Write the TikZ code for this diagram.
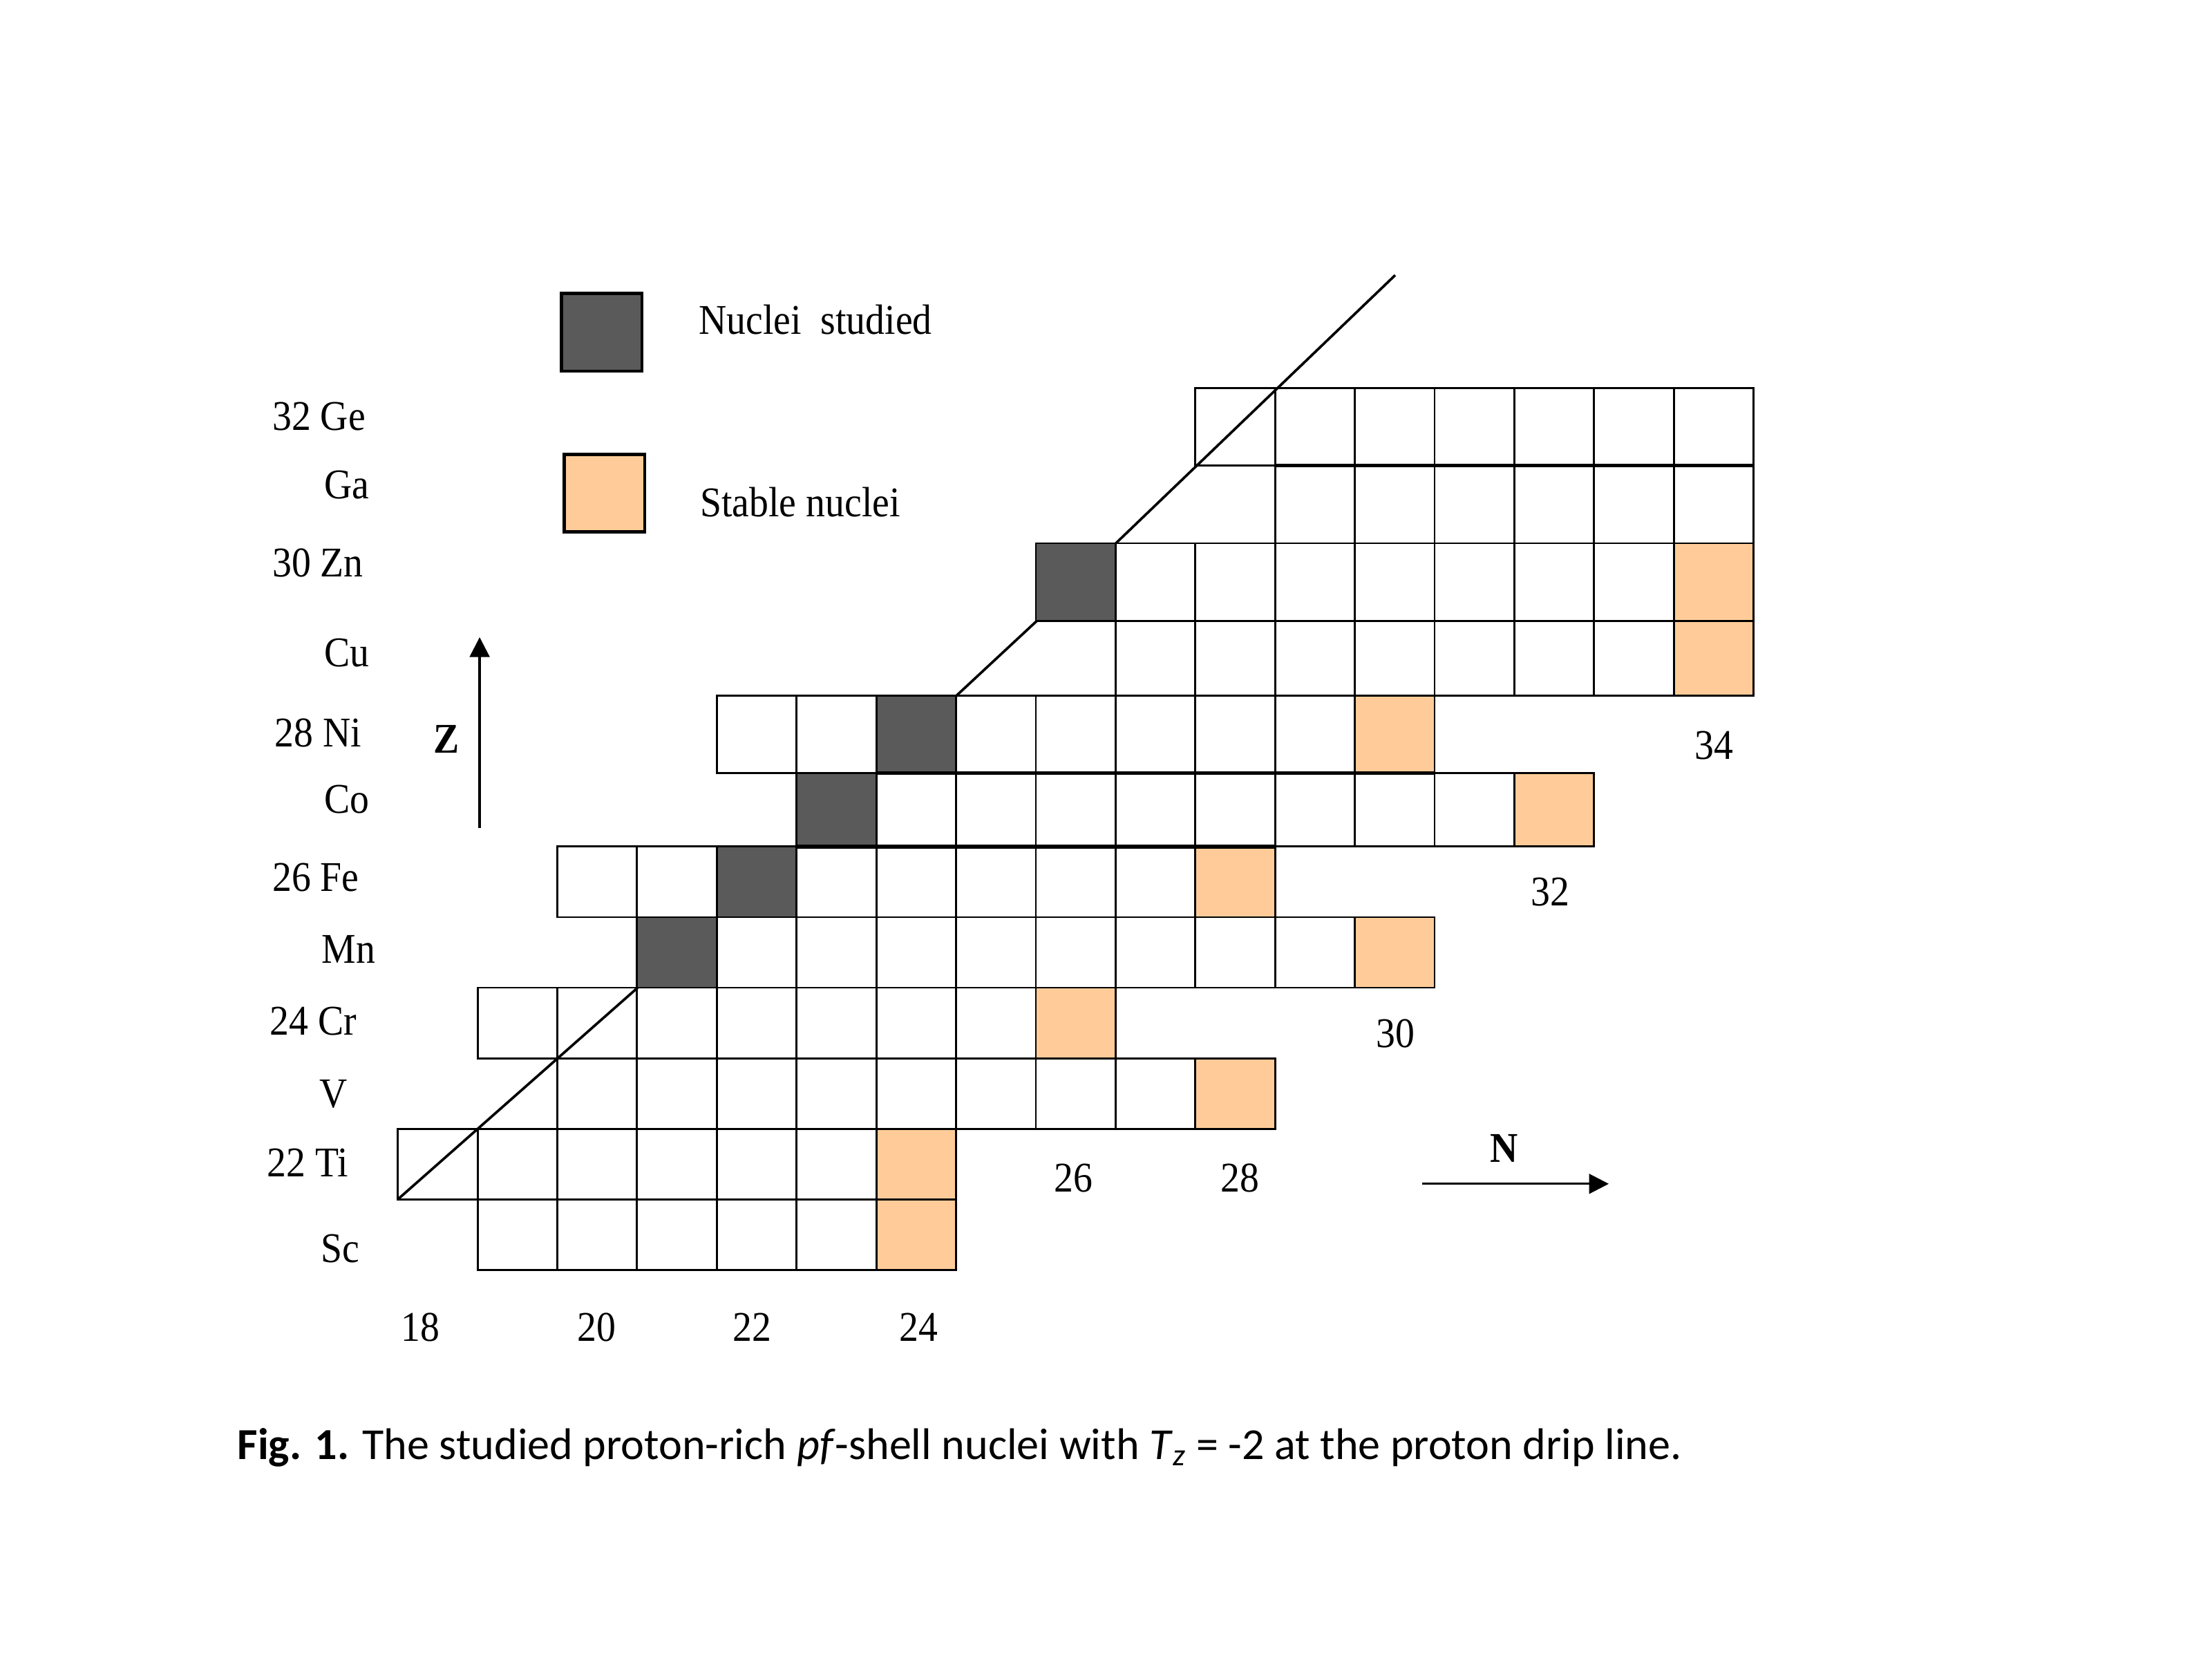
\documentclass[tikz,border=0pt]{standalone}
\usepackage{fontspec}
\setmainfont{Liberation Serif}[FakeStretch=0.91]
\newfontfamily\capfont{Carlito}
\usetikzlibrary{arrows.meta}
\definecolor{stabcol}{HTML}{FFCC99}
\definecolor{studcol}{HTML}{5A5A5A}
\tikzset{
  cell/.style={draw=black, line width=0.7pt},
  thickseg/.style={draw=black, line width=1.3pt},
  stud/.style={fill=studcol},
  stab/.style={fill=stabcol},
  legbox/.style={draw=black, line width=1.1pt},
  lab/.style={font=\fontsize{15}{18}\selectfont, inner sep=0pt},
  axlab/.style={font=\fontsize{15}{18}\selectfont\bfseries, inner sep=0pt},
  diag/.style={line width=0.9pt},
  axis/.style={line width=0.8pt, -{Triangle[length=7pt,width=7pt]}},
}
\begin{document}
\begin{tikzpicture}[x=0.5pt,y=-0.5pt]
\path[use as bounding box, fill=white] (0,0) rectangle (1568,1180);

% studied nuclei (Tz = -2)
\foreach \yt/\yb/\n in {385/440/26, 493/548/24, 548/600/23, 600/650/22, 650/700/21}
  \fill[stud] ({282+(\n-18)*56.53},\yt) rectangle ({282+(\n-17)*56.53},\yb);
% stable nuclei
\foreach \yt/\yb/\n in {385/440/34, 440/493/34, 493/548/30, 548/600/32, 600/650/28,
                         650/700/30, 700/750/26, 750/800/28, 800/850/24, 850/900/24}
  \fill[stab] ({282+(\n-18)*56.53},\yt) rectangle ({282+(\n-17)*56.53},\yb);
% cell borders, row by row (Ge ... Sc)
\foreach \yt/\yb/\na/\nb in {275/330/28/34, 330/385/29/34, 385/440/26/34, 440/493/27/34,
                             493/548/22/30, 548/600/23/32, 600/650/20/28, 650/700/21/30,
                             700/750/19/26, 750/800/20/28, 800/850/18/24, 850/900/19/24}
  \foreach \n in {\na,...,\nb}
    \draw[cell] ({282+(\n-18)*56.53},\yt) rectangle ({282+(\n-17)*56.53},\yb);
% heavier boundary lines
\draw[thickseg] ({282+(29-18)*56.53},330) -- ({282+(35-18)*56.53},330);
\draw[thickseg] ({282+(24-18)*56.53},548) -- ({282+(31-18)*56.53},548);
\draw[thickseg] ({282+(23-18)*56.53},600) -- ({282+(29-18)*56.53},600);

% proton drip line
\coordinate (d1) at (282,850);
\coordinate (d2) at (452,700);
\coordinate (d3) at (678,493);
\coordinate (d4) at (735,440);
\coordinate (d5) at (791,385);
\coordinate (d6) at (989,195);
\draw[diag] (d1) -- (d2);
\draw[diag] (d3) -- (d4);
\draw[diag] (d5) -- (d6);

% legend
\draw[legbox, fill=studcol] (398,208) rectangle (455,263);
\draw[legbox, fill=stabcol] (400,322) rectangle (457,377);
\node[lab, anchor=base west] (tstud) at (495,237) {Nuclei\ \ studied};
\node[lab, anchor=base west] (tstab) at (496,366) {Stable nuclei};

% Z labels
\node[lab, anchor=base west] (zGe) at (192.7,305) {32 Ge};
\node[lab, anchor=base west] (zGa) at (229.4,353.3) {Ga};
\node[lab, anchor=base west] (zZn) at (192.7,409) {30 Zn};
\node[lab, anchor=base west] (zCu) at (229.4,472.6) {Cu};
\node[lab, anchor=base west] (zNi) at (194.3,529.1) {28 Ni};
\node[lab, anchor=base west] (zCo) at (229.4,576.4) {Co};
\node[lab, anchor=base west] (zFe) at (192.7,631.7) {26 Fe};
\node[lab, anchor=base west] (zMn) at (227.8,682.4) {Mn};
\node[lab, anchor=base west] (zCr) at (191,733.4) {24 Cr};
\node[lab, anchor=base west] (zV) at (226.2,784.9) {V};
\node[lab, anchor=base west] (zTi) at (189.1,833.9) {22 Ti};
\node[lab, anchor=base west] (zSc) at (227,894.6) {Sc};

% N labels
\node[lab, anchor=base] (n18) at (298,950.5) {18};
\node[lab, anchor=base] (n20) at (423,950.5) {20};
\node[lab, anchor=base] (n22) at (533,950.5) {22};
\node[lab, anchor=base] (n24) at (651,950.5) {24};
\node[lab, anchor=base] (n26) at (761,844.5) {26};
\node[lab, anchor=base] (n28) at (879,844.5) {28};
\node[lab, anchor=base] (n30) at (989,742.5) {30};
\node[lab, anchor=base] (n32) at (1099,642) {32};
\node[lab, anchor=base] (n34) at (1215,538) {34};

% axes
\node[axlab, anchor=base west] (zlab) at (307,533.7) {Z};
\coordinate (zs) at (340,587);
\coordinate (ze) at (340,451.6);
\draw[axis] (zs) -- (ze);
\node[axlab, anchor=base] (nlab) at (1066,823.8) {N};
\coordinate (ns) at (1008,839);
\coordinate (ne) at (1140.4,839);
\draw[axis] (ns) -- (ne);

% caption
\node[anchor=base west, inner sep=0pt, font=\capfont\fontsize{15.7}{18}\selectfont] (cap) at (168,1034.4)
  {\textbf{Fig. 1.} The studied proton-rich \textit{pf}-shell nuclei with \textit{T}\textsubscript{\textit{z}} = -2 at the proton drip line.};
\end{tikzpicture}
\end{document}
